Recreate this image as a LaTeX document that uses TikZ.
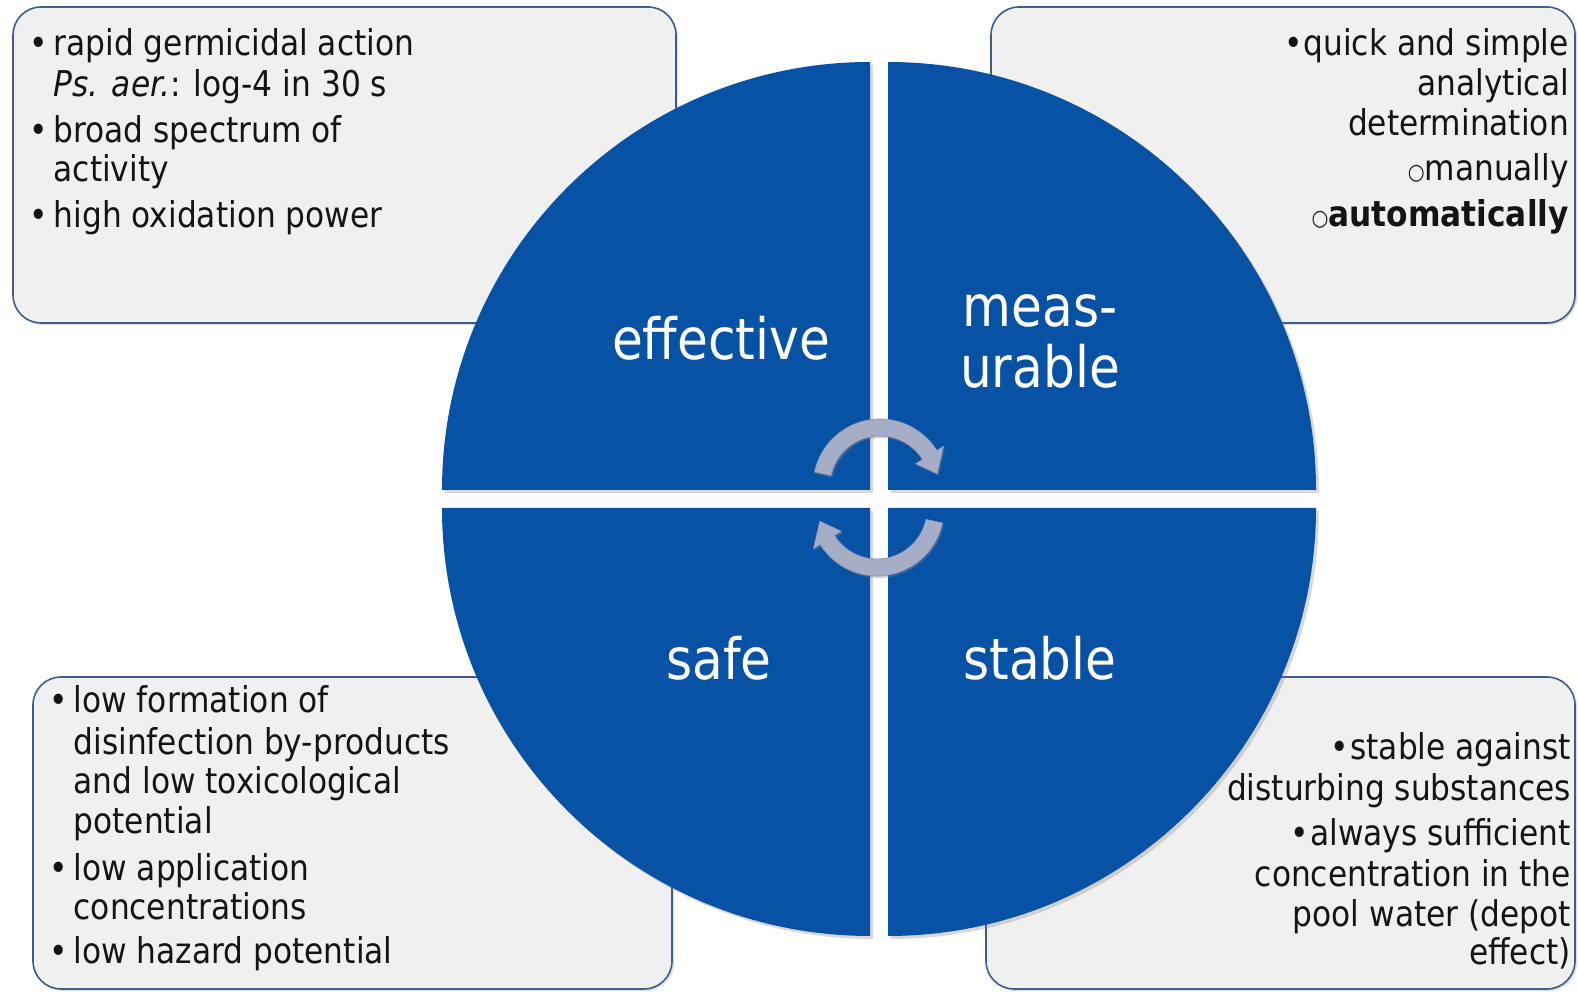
\documentclass[tikz,border=0pt]{standalone}
\usepackage{fontspec}
\setmainfont{DejaVu Sans}[FakeStretch=0.88]
\usetikzlibrary{shadows}

\definecolor{quadblue}{RGB}{8,82,166}
\definecolor{boxfill}{RGB}{240,240,240}
\definecolor{boxline}{RGB}{62,92,140}
\definecolor{cyclefill}{RGB}{166,173,199}
\definecolor{cycleedge}{RGB}{138,146,176}
\newcommand\subbul{\raisebox{1pt}{\scalebox{0.62}{○}}}

\begin{document}
\begin{tikzpicture}[x=1pt,y=1pt,
  infobox/.style={draw=boxline, line width=1.6pt, fill=boxfill, rounded corners=28pt,
    inner sep=0pt, drop shadow={shadow xshift=2pt,shadow yshift=-2pt,opacity=0.25}},
  quad/.style={fill=quadblue, drop shadow={shadow xshift=3pt,shadow yshift=-3pt,opacity=0.3}},
  biglabel/.style={text=white, font=\fontsize{57}{62}\selectfont, inner sep=0pt, anchor=base},
  bodyl/.style={font=\fontsize{35.5}{40}\selectfont, inner sep=0pt, text=black!92},
  lft/.style={bodyl, anchor=base west},
  rgt/.style={bodyl, anchor=base east},
  bul/.style={bodyl, anchor=base},
  cyclearrow/.style={fill=cyclefill, draw=cycleedge, line width=0.6pt,
    drop shadow={shadow xshift=1.5pt,shadow yshift=-2pt,opacity=0.35}}
]
\useasboundingbox (0,0) rectangle (1578,992);
\fill[white] (0,0) rectangle (1578,992);

% ---- text boxes behind the disc
\node[infobox, minimum width=663pt, minimum height=316pt] (boxeff) at (344.5,827) {};
\node[infobox, minimum width=584pt, minimum height=316pt] (boxmeas) at (1283,827) {};
\node[infobox, minimum width=639pt, minimum height=312pt] (boxsafe) at (352.5,159) {};
\node[infobox, minimum width=589pt, minimum height=312pt] (boxstab) at (1280.5,159) {};

% ---- four quarter discs
\coordinate (qtl) at (870,502);
\coordinate (qtr) at (888,502);
\coordinate (qbl) at (870,484);
\coordinate (qbr) at (888,484);
\path[quad] (qtl) -- ++(-428pt,0) arc (180:90:428pt) -- cycle;
\path[quad] (qtr) -- ++(0,428pt) arc (90:0:428pt) -- cycle;
\path[quad] (qbl) -- ++(0,-428pt) arc (270:180:428pt) -- cycle;
\path[quad] (qbr) -- ++(428pt,0) arc (0:-90:428pt) -- cycle;

% ---- quadrant labels
\node[biglabel] (leff) at (721,632) {effective};
\node[biglabel] (lmeas1) at (1040,665) {meas-};
\node[biglabel] (lmeas2) at (1040,604) {urable};
\node[biglabel] (lsafe) at (719,312) {safe};
\node[biglabel] (lstab) at (1040,312) {stable};

% ---- circular arrows in the middle
\coordinate (cup) at (880,506);
\coordinate (cdown) at (877,483);
\begin{scope}[shift={(cup)}]
  \path[cyclearrow] (168:67pt) arc (168:32:67pt) -- (32:75pt) -- (12:58.5pt)
    -- (32:42pt) -- (32:50pt) arc (32:168:50pt) -- cycle;
\end{scope}
\begin{scope}[shift={(cdown)}]
  \path[cyclearrow] (348:67pt) arc (348:212:67pt) -- (212:75pt) -- (192:58.5pt)
    -- (212:42pt) -- (212:50pt) arc (212:348:50pt) -- cycle;
\end{scope}

% ---- effective
\node[bul] (be1) at (39,936.5) {•};
\node[lft] (te1) at (53.5,936.5) {rapid germicidal action};
\node[lft] (te2) at (53.5,895.5) {\textit{Ps. aer.}: log-4 in 30 s};
\node[bul] (be2) at (39,849.5) {•};
\node[lft] (te3) at (53.5,849.5) {broad spectrum of};
\node[lft] (te4) at (53.5,810) {activity};
\node[bul] (be3) at (39,764) {•};
\node[lft] (te5) at (53.5,764) {high oxidation power};

% ---- measurable
\node[rgt] (tm1) at (1569,936.5) {•\hspace{1pt}quick and simple};
\node[rgt] (tm2) at (1569,896) {analytical};
\node[rgt] (tm3) at (1569,856.5) {determination};
\node[rgt] (tm4) at (1569,811) {\subbul manually};
\node[rgt] (tm5) at (1569,765.5) {\subbul\textbf{automatically}};

% ---- safe
\node[bul] (bs1) at (59,279.5) {•};
\node[lft] (ts1) at (73.5,279.5) {low formation of};
\node[lft] (ts2) at (73.5,237.5) {disinfection by-products};
\node[lft] (ts3) at (73.5,198) {and low toxicological};
\node[lft] (ts4) at (73.5,158) {potential};
\node[bul] (bs2) at (59,111.5) {•};
\node[lft] (ts5) at (73.5,111.5) {low application};
\node[lft] (ts6) at (73.5,72) {concentrations};
\node[bul] (bs3) at (59,28) {•};
\node[lft] (ts7) at (73.5,28) {low hazard potential};

% ---- stable
\node[rgt] (tt1) at (1571,232) {•\hspace{1pt}stable against};
\node[rgt] (tt2) at (1571,191) {disturbing substances};
\node[rgt] (tt3) at (1571,146) {•\hspace{1pt}always sufficient};
\node[rgt] (tt4) at (1571,105.5) {concentration in the};
\node[rgt] (tt5) at (1571,65.5) {pool water (depot};
\node[rgt] (tt6) at (1571,27) {effect)};
\end{tikzpicture}
\end{document}
